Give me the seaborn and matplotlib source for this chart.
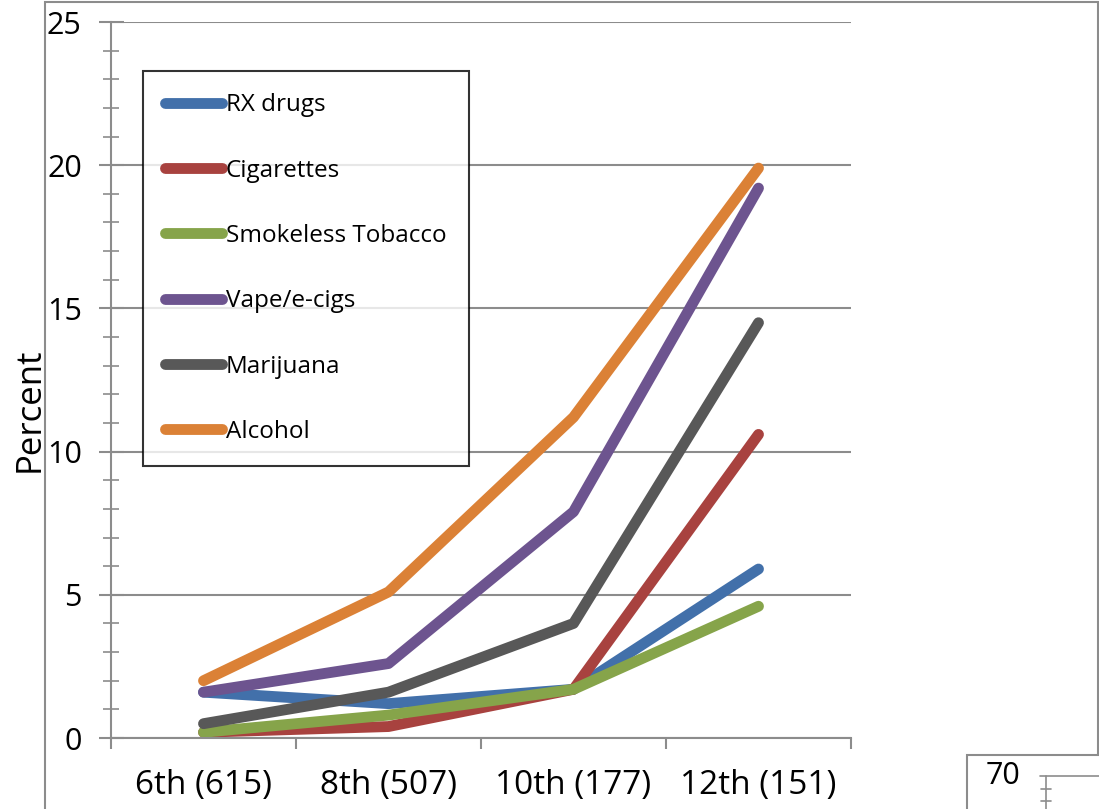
import matplotlib
matplotlib.use("Agg")
import matplotlib.pyplot as plt
from matplotlib.lines import Line2D
from matplotlib.patches import Rectangle
import numpy as np
import pandas as pd
import seaborn as sns

# Grade levels (sample size in parentheses)
grades = ["6th (615)", "8th (507)", "10th (177)", "12th (151)"]

# Percent reporting use, by substance
rx_drugs = [1.6, 1.2, 1.7, 5.9]
cigarettes = [0.2, 0.4, 1.7, 10.6]
smokeless = [0.2, 0.8, 1.7, 4.6]
vape = [1.6, 2.6, 7.9, 19.2]
marijuana = [0.5, 1.6, 4.0, 14.5]
alcohol = [2.0, 5.1, 11.2, 19.9]

substances = ["RX drugs", "Cigarettes", "Smokeless Tobacco", "Vape/e-cigs",
              "Marijuana", "Alcohol"]
colors = ["#4270AA", "#A8423F", "#86A44A", "#6D548F", "#585858", "#DB8136"]
series = [rx_drugs, cigarettes, smokeless, vape, marijuana, alcohol]

y_ticks = [0, 5, 10, 15, 20, 25]

rows = []
for name, vals in zip(substances, series):
    for g, v in zip(grades, vals):
        rows.append({"Grade": g, "Percent": v, "Substance": name})
df = pd.DataFrame(rows)

sns.set_theme(style="white")
plt.rcParams["font.family"] = ["Open Sans", "DejaVu Sans"]
plt.rcParams["text.color"] = "black"
plt.rcParams["xtick.color"] = "black"
plt.rcParams["ytick.color"] = "black"

W, H = 1099, 809
fig = plt.figure(figsize=(W / 100, H / 100), dpi=100)

def fx(px):
    return px / W

def fy(py):
    return 1 - py / H

ax = fig.add_axes([fx(111), fy(738), fx(851) - fx(111), fy(22) - fy(738)])

LW = 7.8
palette = dict(zip(substances, colors))
sns.lineplot(data=df, x="Grade", y="Percent", hue="Substance",
             hue_order=substances, palette=palette, linewidth=LW,
             legend=False, ax=ax, sort=False)
for ln in ax.lines:
    ln.set_solid_capstyle("round")
    ln.set_solid_joinstyle("round")

grid_col = "#8C8C8C"
ax.set_xlim(-0.5, 3.5)
ax.set_ylim(0, 25)
ax.set_yticks(y_ticks)
ax.set_yticks(np.arange(0, 26, 1), minor=True)
ax.yaxis.grid(True, which="major", color=grid_col, linewidth=1.5)
ax.xaxis.grid(False)
ax.set_axisbelow(True)

ax.set_xticks(range(len(grades)))
ax.set_xticklabels(grades, fontsize=24, color="black")
ax.set_xticks(np.arange(-0.5, 4.0, 1.0), minor=True)
ax.tick_params(axis="x", which="major", length=0, pad=22)
ax.tick_params(axis="x", which="minor", length=8, width=1.5, color=grid_col,
               direction="out", bottom=True)
ax.tick_params(axis="y", which="major", length=18, width=1.5, color=grid_col,
               direction="inout", labelsize=22, labelcolor="black", pad=12,
               left=True)
ax.tick_params(axis="y", which="minor", length=12, width=1.2, color=grid_col,
               direction="inout", left=True)
ax.set_xlabel("")
ax.set_ylabel("")

for side in ["top", "right"]:
    ax.spines[side].set_visible(False)
for side in ["left", "bottom"]:
    ax.spines[side].set_color(grid_col)
    ax.spines[side].set_linewidth(1.5)

fig.text(fx(30), fy(410), "Percent", rotation=90, fontsize=25,
         ha="center", va="center", color="black")

handles = [Line2D([0], [0], color=c, linewidth=LW, solid_capstyle="round")
           for c in colors]
leg = ax.legend(handles, substances, loc="upper left",
                bbox_to_anchor=(fx(143), fy(71)), bbox_transform=fig.transFigure,
                fontsize=17.5, frameon=True, fancybox=False, handlelength=2.35,
                handletextpad=0.13, labelspacing=1.70, borderpad=0.92,
                borderaxespad=0)
leg.get_frame().set_edgecolor("black")
leg.get_frame().set_linewidth(1.5)
for t in leg.get_texts():
    t.set_color("black")

# Outer chart frame
fig.add_artist(Rectangle((fx(45), fy(860)), fx(1098) - fx(45), fy(2) - fy(860),
                         transform=fig.transFigure, fill=False,
                         edgecolor="#8C8C8C", linewidth=1.5, clip_on=False))

# Corner of the neighbouring chart
fig.add_artist(Rectangle((fx(967), fy(860)), fx(1140) - fx(967), fy(755) - fy(860),
                         transform=fig.transFigure, fill=True, facecolor="white",
                         edgecolor="#8C8C8C", linewidth=1.5, clip_on=False))
fig.text(fx(1003), fy(776), "70", fontsize=22, ha="center", va="center",
         color="black")
fig.add_artist(Line2D([fx(1046), fx(1046)], [fy(776), fy(809)],
                      transform=fig.transFigure, color="#8C8C8C", linewidth=1.2))
fig.add_artist(Line2D([fx(1040), fx(1099)], [fy(776), fy(776)],
                      transform=fig.transFigure, color="#8C8C8C", linewidth=1.2))
for yy in [789, 801]:
    fig.add_artist(Line2D([fx(1041), fx(1051)], [fy(yy), fy(yy)],
                          transform=fig.transFigure, color="#8C8C8C", linewidth=1.2))

fig.savefig("out.png", dpi=100)
